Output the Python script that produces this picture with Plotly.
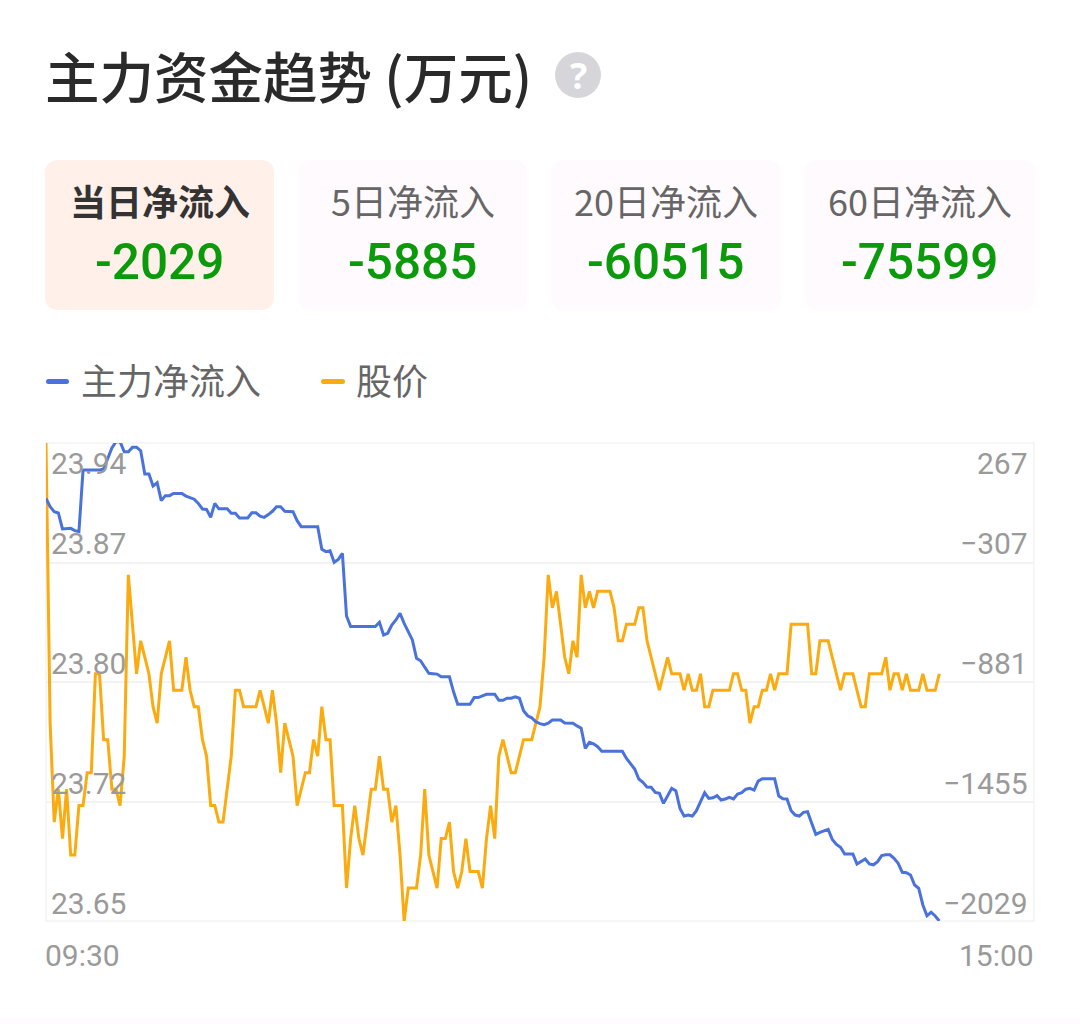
import plotly.graph_objects as go

W, H = 1080, 1024
PL, PR, PT, PB = 46, 1034, 443, 921

minutes = list(range(218))
price = [
 23.94,23.77,23.71,23.73,23.70,23.73,23.69,23.69,23.72,23.72,23.74,23.74,23.80,23.80,23.76,23.76,23.73,23.73,23.72,23.75,
 23.86,23.83,23.80,23.82,23.81,23.80,23.78,23.77,23.80,23.81,23.82,23.79,23.79,23.79,23.81,23.79,23.78,23.78,23.76,23.75,
 23.72,23.72,23.71,23.71,23.73,23.75,23.79,23.79,23.78,23.78,23.78,23.78,23.79,23.78,23.77,23.79,23.77,23.74,23.77,23.76,
 23.75,23.72,23.73,23.74,23.74,23.76,23.75,23.78,23.76,23.76,23.72,23.72,23.72,23.67,23.70,23.72,23.70,23.69,23.71,23.73,
 23.73,23.75,23.73,23.73,23.71,23.72,23.69,23.65,23.67,23.67,23.67,23.69,23.73,23.69,23.68,23.67,23.70,23.70,23.71,23.68,
 23.67,23.68,23.70,23.68,23.68,23.68,23.67,23.70,23.72,23.70,23.75,23.76,23.75,23.74,23.74,23.75,23.76,23.76,23.76,23.77,
 23.78,23.81,23.86,23.84,23.85,23.83,23.81,23.80,23.82,23.81,23.86,23.84,23.85,23.84,23.85,23.85,23.85,23.85,23.84,23.82,
 23.82,23.83,23.83,23.83,23.84,23.84,23.82,23.81,23.80,23.79,23.80,23.81,23.80,23.80,23.80,23.79,23.80,23.79,23.79,23.80,
 23.78,23.78,23.79,23.79,23.79,23.79,23.79,23.80,23.80,23.79,23.79,23.77,23.78,23.78,23.79,23.79,23.80,23.79,23.80,23.80,
 23.80,23.83,23.83,23.83,23.83,23.83,23.80,23.80,23.82,23.82,23.82,23.81,23.80,23.79,23.80,23.80,23.80,23.79,23.78,23.78,
 23.80,23.80,23.80,23.80,23.81,23.79,23.80,23.80,23.79,23.80,23.79,23.79,23.79,23.80,23.79,23.79,23.79,23.80,
]
flow = [
 1,-39,-63,-69,-146,-145,-143,-154,-159,137,137,137,137,137,142,195,243,273,273,225,
 225,246,246,230,118,118,60,76,-10,14,14,25,25,25,12,3,-3,-23,-50,-52,
 -90,-23,-49,-49,-49,-71,-71,-93,-93,-93,-68,-68,-84,-90,-77,-61,-39,-39,-61,-63,
 -63,-106,-135,-135,-135,-135,-135,-244,-255,-251,-306,-292,-263,-564,-615,-615,-615,-615,-615,-615,
 -615,-594,-655,-647,-607,-583,-551,-599,-640,-679,-767,-779,-810,-839,-841,-843,-856,-856,-856,-928,
 -988,-988,-988,-988,-956,-956,-948,-940,-940,-940,-969,-969,-959,-959,-952,-959,-1019,-1043,-1053,-1072,
 -1081,-1086,-1079,-1064,-1064,-1064,-1078,-1079,-1079,-1092,-1103,-1200,-1171,-1178,-1192,-1214,-1214,-1214,-1214,-1214,
 -1214,-1248,-1275,-1299,-1347,-1363,-1386,-1387,-1411,-1416,-1464,-1424,-1392,-1403,-1488,-1525,-1520,-1525,-1499,-1456,
 -1413,-1440,-1437,-1427,-1448,-1443,-1435,-1443,-1419,-1413,-1396,-1392,-1400,-1357,-1346,-1346,-1346,-1346,-1429,-1442,
 -1443,-1499,-1520,-1525,-1507,-1504,-1560,-1613,-1603,-1597,-1589,-1637,-1661,-1675,-1707,-1707,-1707,-1755,-1744,-1731,
 -1755,-1759,-1744,-1715,-1711,-1711,-1728,-1752,-1795,-1797,-1808,-1856,-1872,-1952,-2004,-1987,-2005,-2029,
]
price_ticks = [23.94, 23.87, 23.80, 23.72, 23.65]
flow_ticks = [267, -307, -881, -1455, -2029]
price_grid = [23.94, 23.8675, 23.795, 23.7225, 23.65]
time_labels = ["09:30", "15:00"]
tab_titles = ["当日净流入", "5日净流入", "20日净流入", "60日净流入"]
tab_values = ["-2029", "-5885", "-60515", "-75599"]
tab_boxes = [(45, 274), (298, 527), (551, 781), (805, 1035)]
legend_names = ["主力净流入", "股价"]

BLUE = "#4a72dc"
ORANGE = "#fbab10"
GRID = "#f3f3f3"
LABEL = "#9a9a9a"
CJK = "Noto Sans CJK SC, Noto Sans, sans-serif"
PW, PH = PR - PL, PB - PT


def px(x):
    return (x - PL) / PW


def py(y):
    return (PB - y) / PH


def rrect(x0, y0, x1, y1, r, fill):
    X0, X1, Y0, Y1 = px(x0), px(x1), py(y0), py(y1)
    rx, ry = r / PW, r / PH
    path = (f"M {X0+rx} {Y0} L {X1-rx} {Y0} Q {X1} {Y0} {X1} {Y0-ry} L {X1} {Y1+ry} Q {X1} {Y1} {X1-rx} {Y1} "
            f"L {X0+rx} {Y1} Q {X0} {Y1} {X0} {Y1+ry} L {X0} {Y0-ry} Q {X0} {Y0} {X0+rx} {Y0} Z")
    return dict(type="path", xref="paper", yref="paper", path=path, fillcolor=fill,
                line=dict(width=0), layer="below")


def text(x, y, s, size, color, xanchor="center", family=CJK):
    return dict(xref="paper", yref="paper", x=px(x), y=py(y), text=s, showarrow=False,
                xanchor=xanchor, yanchor="middle", align="center", borderpad=0, borderwidth=0,
                font=dict(size=size, color=color, family=family))


fig = go.Figure()
fig.add_trace(go.Scatter(x=minutes, y=price, yaxis="y", mode="lines", name=legend_names[1], cliponaxis=False,
                         line=dict(color=ORANGE, width=3)))
fig.add_trace(go.Scatter(x=minutes, y=flow, yaxis="y2", mode="lines", name=legend_names[0], cliponaxis=False,
                         line=dict(color=BLUE, width=3)))

shapes = []
for i, (a, b) in enumerate(tab_boxes):
    shapes.append(rrect(a, 160, b, 310, 14, "#fff0e9" if i == 0 else "#fefafe"))
shapes.append(rrect(46, 379, 69, 384, 2.5, BLUE))
shapes.append(rrect(321, 379, 345, 384, 2.5, ORANGE))
shapes.append(dict(type="circle", xref="paper", yref="paper", x0=px(555), x1=px(601), y0=py(98), y1=py(52),
                   fillcolor="#d6d5da", line=dict(width=0), layer="below"))
shapes.append(dict(type="rect", xref="paper", yref="paper", x0=px(0), x1=px(W), y0=py(1018), y1=py(1024),
                   fillcolor="#fefafe", line=dict(width=0), layer="below"))
shapes.append(dict(type="rect", xref="paper", yref="paper", x0=px(PL), x1=px(PR), y0=py(PB), y1=py(PT),
                   line=dict(color=GRID, width=1.5), layer="below"))

ann = [text(45, 74, "主力资金趋势 (万元)", 54.5, "#2a2a2a", "left"),
       text(578, 75, "?", 36, "#ffffff", "center", "Noto Sans, sans-serif")]
ann[0]["font"]["weight"] = 500
ann[1]["font"]["weight"] = 700
for i, (a, b) in enumerate(tab_boxes):
    c = (a + b) / 2
    t = text(c, 200, tab_titles[i], 36, "#333333" if i == 0 else "#666666")
    if i == 0:
        t["font"]["weight"] = 700
    ann.append(t)
    v = text(c, 262, tab_values[i], 49.5, "#0a9a0a", "center", "Roboto, Noto Sans, sans-serif")
    v["font"]["weight"] = 500
    ann.append(v)
ann.append(text(81, 379, legend_names[0], 36, "#666666", "left"))
ann.append(text(356, 379, legend_names[1], 36, "#666666", "left"))
for i in range(5):
    yc = [463, 543, 663, 783, 903][i]
    ann.append(text(51, yc, f"{price_ticks[i]:.2f}", 30, LABEL, "left", "Roboto, sans-serif"))
    ann.append(text(1028, yc, str(flow_ticks[i]).replace("-", "−"), 30, LABEL, "right", "Roboto, sans-serif"))
ann.append(text(45, 955, time_labels[0], 30, LABEL, "left", "Roboto, sans-serif"))
ann.append(text(1034, 955, time_labels[1], 30, LABEL, "right", "Roboto, sans-serif"))

fig.update_layout(
    width=W, height=H, autosize=False,
    margin=dict(l=PL, r=W - PR, t=PT, b=H - PB, pad=0),
    paper_bgcolor="#ffffff", plot_bgcolor="#ffffff", showlegend=False,
    xaxis=dict(range=[0, 240], showgrid=False, zeroline=False, showticklabels=False, ticks=""),
    yaxis=dict(range=[23.65, 23.94], tickmode="array", tickvals=price_grid, showticklabels=False,
               gridcolor=GRID, gridwidth=1.5, zeroline=False, ticks=""),
    yaxis2=dict(range=[-2029, 267], overlaying="y", side="right", showgrid=False, zeroline=False,
                showticklabels=False, ticks=""),
    shapes=shapes, annotations=ann,
)
fig.write_html("out.html", config=dict(displayModeBar=False),
               post_script="document.body.style.margin='0';document.body.style.background='#fff';")
